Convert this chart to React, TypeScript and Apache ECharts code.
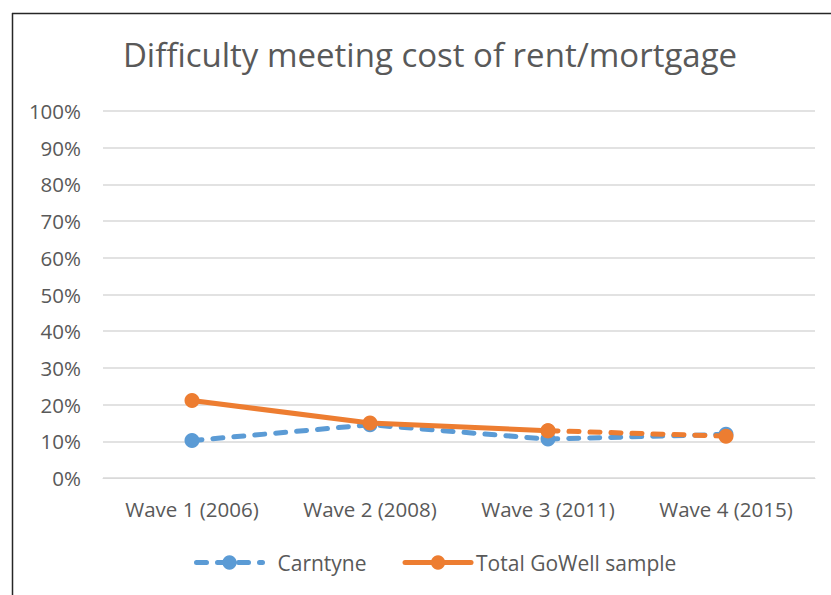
import React, { useEffect, useRef } from "react";
import * as echarts from "echarts";

const categories = ["Wave 1 (2006)", "Wave 2 (2008)", "Wave 3 (2011)", "Wave 4 (2015)"];
const carntyne = [10.2, 14.5, 10.6, 11.9];
const totalGoWell = [21.1, 15.0, 12.9, 11.4];
const totalGoWellDashed = [null, null, 12.9, 11.4];
const yTicks = [0, 10, 20, 30, 40, 50, 60, 70, 80, 90, 100];

const FONT = "'Open Sans', sans-serif";
const TEXT = "#595959";
const BLUE = "#5B9BD5";
const ORANGE = "#ED7D31";

export default function App() {
  const ref = useRef<HTMLDivElement>(null);
  useEffect(() => {
    if (!ref.current) return;
    const chart = echarts.init(ref.current, null, { renderer: "svg" });
    chart.setOption({
      animation: false,
      backgroundColor: "#ffffff",
      title: {
        text: "Difficulty meeting cost of rent/mortgage",
        left: 425,
        top: 33,
        textAlign: "center",
        textStyle: { fontFamily: FONT, fontSize: 33, fontWeight: "normal", color: TEXT },
      },
      graphic: [
        { type: "line", shape: { x1: 12.5, y1: 13, x2: 12.5, y2: 595 }, style: { stroke: "#262626", lineWidth: 1.5 } },
        { type: "line", shape: { x1: 12, y1: 13.5, x2: 831, y2: 13.5 }, style: { stroke: "#262626", lineWidth: 1.5 } },
      ],
      legend: {
        bottom: 17,
        left: 189,
        itemWidth: 66,
        itemHeight: 18,
        itemGap: 36,
        lineStyle: { width: 5 },
        data: [
          { name: "Carntyne", textStyle: { padding: [0, 0, 0, 10] } },
          { name: "Total GoWell sample" },
        ],
        textStyle: { fontFamily: FONT, fontSize: 21, color: TEXT },
      },
      grid: { left: 103, right: 16, top: 111, bottom: 117, containLabel: false },
      xAxis: {
        type: "category",
        data: categories,
        boundaryGap: true,
        axisLine: { show: true, lineStyle: { color: "#D9D9D9", width: 1 } },
        axisTick: { show: false },
        axisLabel: { fontFamily: FONT, fontSize: 20.5, color: TEXT, margin: 20 },
      },
      yAxis: {
        type: "value",
        min: yTicks[0],
        max: yTicks[yTicks.length - 1],
        interval: 10,
        axisLine: { show: false },
        axisTick: { show: false },
        splitLine: { lineStyle: { color: "#D9D9D9", width: 1.5 } },
        axisLabel: { fontFamily: FONT, fontSize: 20.5, color: TEXT, margin: 22, formatter: "{value}%" },
      },
      series: [
        {
          name: "Carntyne",
          type: "line",
          data: carntyne,
          symbol: "circle",
          symbolSize: 15,
          itemStyle: { color: BLUE },
          lineStyle: { color: BLUE, width: 5, type: [10, 11], cap: "round" },
          z: 2,
        },
        {
          name: "Total GoWell sample",
          type: "line",
          data: totalGoWell.slice(0, 3),
          symbol: "circle",
          symbolSize: 15,
          itemStyle: { color: ORANGE },
          lineStyle: { color: ORANGE, width: 5, cap: "round" },
          z: 4,
        },
        {
          name: "Total GoWell dashed",
          type: "line",
          data: totalGoWellDashed,
          symbol: "circle",
          symbolSize: 15,
          showSymbol: true,
          itemStyle: { color: ORANGE },
          lineStyle: { color: ORANGE, width: 5, type: [10, 11], cap: "round" },
          z: 3,
        },
      ],
    });
    return () => chart.dispose();
  }, []);
  return (
    <div
      ref={ref}
      style={{ position: "fixed", left: 0, top: 0, width: 831, height: 595 }}
    />
  );
}
